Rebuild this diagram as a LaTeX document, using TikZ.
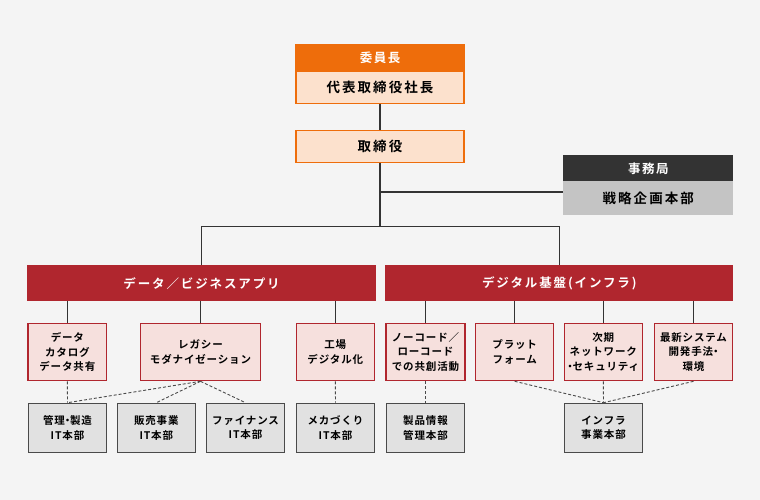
\documentclass[tikz,border=0pt]{standalone}
\usepackage{fontspec}
\setmainfont{Noto Sans CJK JP}[BoldFont={Noto Sans CJK JP Bold}]
\definecolor{bgC}{HTML}{F4F4F4}
\definecolor{orangeC}{HTML}{EE6D0B}
\definecolor{peachC}{HTML}{FCE1CD}
\definecolor{redC}{HTML}{B0262E}
\definecolor{pinkC}{HTML}{F6E0DD}
\definecolor{darkC}{HTML}{333333}
\definecolor{midC}{HTML}{C4C4C4}
\definecolor{lgC}{HTML}{E1E1E1}
\definecolor{bordC}{HTML}{4A4A4A}
\definecolor{lineC}{HTML}{333333}
\newcommand\ftop{\fontsize{12.5}{15}\selectfont\bfseries\addfontfeature{LetterSpace=12}}
\newcommand\fmain{\fontsize{13.5}{16}\selectfont\bfseries\addfontfeature{LetterSpace=15}}
\newcommand\fbar{\fontsize{12.5}{15}\selectfont\bfseries\addfontfeature{LetterSpace=15}}
\newcommand\fsmall{\fontsize{10.5}{14.3}\selectfont\bfseries\addfontfeature{LetterSpace=8}}
\newcommand\nkg{{\addfontfeature{RawFeature=+palt}・}}
\begin{document}
\begin{tikzpicture}[x=1pt,y=-1pt,
  box/.style={rectangle, inner sep=0pt, line width=1.2pt, align=center},
  headbox/.style={box, fill=orangeC, draw=orangeC, text=white, font=\ftop, minimum width=168pt, minimum height=26.5pt},
  peachbox/.style={box, fill=peachC, draw=orangeC, font=\fmain, minimum width=168pt, minimum height=32pt},
  darkbox/.style={box, fill=darkC, draw=darkC, text=white, font=\ftop, minimum width=168.5pt, minimum height=25.7pt},
  greybox/.style={box, fill=midC, draw=midC, font=\fmain, minimum width=168.5pt, minimum height=32.3pt},
  barbox/.style={box, fill=redC, draw=redC, text=white, font=\fbar, minimum width=347pt, minimum height=34.7pt},
  subbox/.style={box, fill=pinkC, draw=redC, font=\fsmall, minimum width=78.4pt, minimum height=57.4pt},
  unitbox/.style={box, fill=lgC, draw=bordC, font=\fsmall, minimum width=78pt, minimum height=49.4pt},
  conn/.style={draw=lineC, line width=1.1pt},
  dconn/.style={draw=bordC, line width=0.9pt, dash pattern=on 3pt off 2pt}
]
\useasboundingbox[fill=bgC] (0,0) rectangle (760,500);

% top
\node[headbox] (iin) at (380,58.25) {委員長};
\node[peachbox] (ceo) at (380,87.5) {代表取締役社長};
\node[peachbox] (tori) at (380,146.25) {取締役};
\node[darkbox] (jim) at (648.25,168.85) {事務局};
\node[greybox] (sen) at (648.25,197.85) {戦略企画本部};

% bars
\node[barbox] (barL) at (201.5,283.35) {データ／ビジネスアプリ};
\node[barbox, minimum width=346.5pt] (barR) at (559.25,283.35) {デジタル基盤(インフラ)};

% sub boxes
\node[subbox, minimum width=78.7pt] (s1) at (67.35,352) {データ\\カタログ\\データ共有};
\node[subbox, minimum width=120.4pt] (s2) at (200.5,352) {レガシー\\モダナイゼーション};
\node[subbox, minimum width=78pt] (s3) at (335.3,352) {工場\\デジタル化};
\node[subbox, minimum width=79pt] (s4) at (425.5,352) {ノーコード／\\ローコード\\での共創活動};
\node[subbox, minimum width=78pt] (s5) at (514.7,352) {プラット\\フォーム};
\node[subbox, minimum width=78pt] (s6) at (603.3,352) {次期\\ネットワーク\\\nkg セキュリティ};
\node[subbox] (s7) at (693.5,352) {最新システム\\開発手法\nkg\\環境};

% unit boxes
\node[unitbox, minimum width=78.4pt] (ba) at (67.5,428) {管理\nkg 製造\\IT本部};
\node[unitbox] (bb) at (156.3,428) {販売事業\\IT本部};
\node[unitbox, minimum width=78.4pt] (bc) at (245.5,428) {ファイナンス\\IT本部};
\node[unitbox, minimum width=77.6pt] (bd) at (335.5,428) {メカづくり\\IT本部};
\node[unitbox, minimum width=77.6pt] (be) at (425.5,428) {製品情報\\管理本部};
\node[unitbox, minimum width=77.6pt] (bf) at (603.5,428) {インフラ\\事業本部};

% connectors
\coordinate (jm) at (380,192);
\coordinate (jb) at (380,226.7);
\draw[conn] (ceo.south) -- (tori.north);
\draw[conn] (tori.south) -- (jb);
\draw[conn] (jm) -- (jm -| jim.west);
\draw[conn] (barL.north) |- (jb) -| (barR.north);
\foreach \s in {s1,s2,s3} \draw[conn] (\s.north) -- (\s.north |- barL.south);
\foreach \s in {s4,s5,s6,s7} \draw[conn] (\s.north) -- (\s.north |- barR.south);

\draw[dconn] (s1.south) -- (ba.north);
\draw[dconn] (s2.south) -- (ba.north);
\draw[dconn] (s2.south) -- (bb.north);
\draw[dconn] (s2.south) -- (bc.north);
\draw[dconn] (s3.south) -- (bd.north);
\draw[dconn] (s4.south) -- (be.north);
\draw[dconn] (s5.south) -- (bf.north);
\draw[dconn] (s6.south) -- (bf.north);
\draw[dconn] (s7.south) -- (bf.north);
\end{tikzpicture}
\end{document}
